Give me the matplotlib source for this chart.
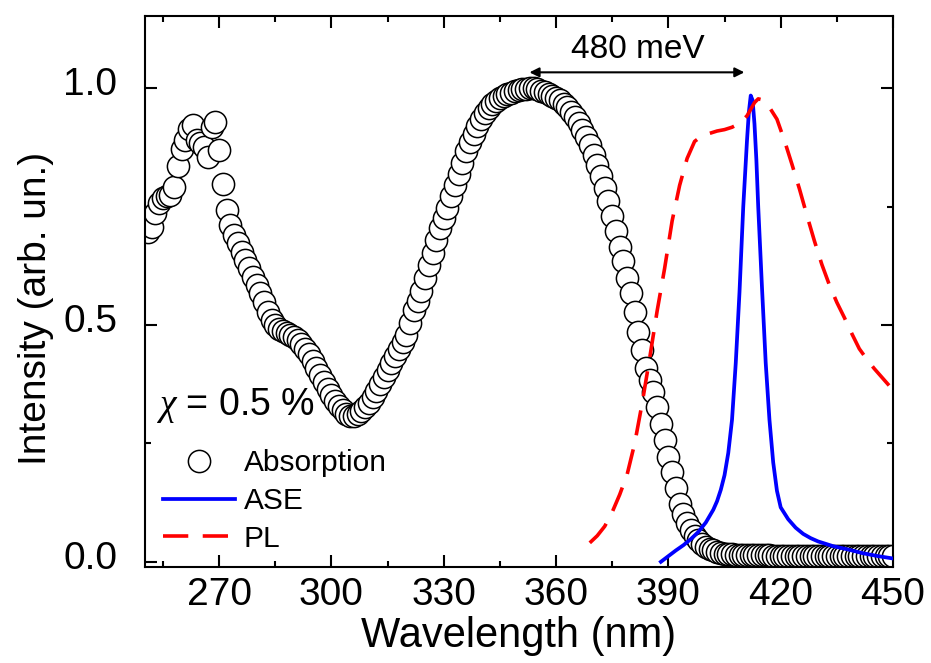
import numpy as np
import matplotlib
matplotlib.use("Agg")
import matplotlib.pyplot as plt
from matplotlib.ticker import MultipleLocator
from matplotlib.transforms import ScaledTranslation

plt.rcParams['font.family'] = ['Liberation Sans', 'DejaVu Sans']
plt.rcParams['mathtext.fontset'] = 'custom'
plt.rcParams['mathtext.rm'] = 'Liberation Sans'
plt.rcParams['mathtext.it'] = 'Liberation Serif:italic'

# Absorption (1 nm sampling starting at 251 nm)
abs_start = 251
absorption = [
    0.697, 0.708, 0.736, 0.757, 0.768, 0.773, 0.775, 0.792, 0.836, 0.871,   # 251-260
    0.891, 0.915, 0.922, 0.891, 0.884, 0.877, 0.856, 0.918, 0.929, 0.870,   # 261-270
    0.799, 0.744, 0.711, 0.690, 0.673, 0.655, 0.637, 0.620, 0.602, 0.585,   # 271-280
    0.567, 0.549, 0.528, 0.511, 0.500, 0.492, 0.487, 0.483, 0.479, 0.474,   # 281-290
    0.468, 0.460, 0.450, 0.438, 0.425, 0.410, 0.395, 0.380, 0.366, 0.352,   # 291-300
    0.340, 0.330, 0.320, 0.313, 0.309, 0.309, 0.312, 0.318, 0.326, 0.336,   # 301-310
    0.348, 0.361, 0.375, 0.390, 0.405, 0.420, 0.435, 0.450, 0.465, 0.480,   # 311-320
    0.505, 0.532, 0.550, 0.573, 0.600, 0.627, 0.653, 0.680, 0.705, 0.727,   # 321-330
    0.748, 0.773, 0.797, 0.820, 0.842, 0.868, 0.886, 0.904, 0.920, 0.935,   # 331-340
    0.948, 0.959, 0.967, 0.974, 0.979, 0.984, 0.988, 0.991, 0.994, 0.996,   # 341-350
    0.998, 0.999, 1.000, 1.000, 0.998, 0.995, 0.992, 0.988, 0.984, 0.980,   # 351-360
    0.975, 0.968, 0.961, 0.951, 0.940, 0.926, 0.912, 0.897, 0.880, 0.860,   # 361-370
    0.838, 0.815, 0.790, 0.762, 0.730, 0.698, 0.665, 0.635, 0.600, 0.567,   # 371-380
    0.528, 0.486, 0.447, 0.410, 0.385, 0.358, 0.327, 0.292, 0.257, 0.222,   # 381-390
    0.190, 0.155, 0.123, 0.100, 0.082, 0.068, 0.055, 0.045, 0.038, 0.032,   # 391-400
    0.027, 0.024, 0.021, 0.019, 0.017, 0.016, 0.016, 0.015, 0.015, 0.015,   # 401-410
    0.015, 0.014, 0.014, 0.014, 0.014, 0.014, 0.014, 0.013, 0.013, 0.013,   # 411-420
    0.013, 0.013, 0.013, 0.013, 0.013, 0.013, 0.013, 0.013, 0.013, 0.013,   # 421-430
    0.013, 0.013, 0.013, 0.013, 0.013, 0.013, 0.013, 0.013, 0.013, 0.013,   # 431-440
    0.013, 0.013, 0.013, 0.013, 0.013, 0.013, 0.013, 0.013, 0.013, 0.013,   # 441-450
]
abs_wl = np.arange(abs_start, abs_start + len(absorption))

# ASE
ase_wl = [388, 390, 392, 394, 396, 398, 400, 402, 403, 404, 405, 406, 407, 408,
          409, 410, 411, 411.5, 412, 412.5, 413, 413.5, 414, 415, 416, 417, 418,
          419, 420, 422, 424, 426, 428, 430, 434, 438, 442, 446, 450]
ase = [0.000, 0.012, 0.024, 0.035, 0.048, 0.063, 0.083, 0.110, 0.128, 0.152,
       0.183, 0.230, 0.300, 0.420, 0.570, 0.750, 0.890, 0.950, 0.985, 0.975,
       0.925, 0.850, 0.750, 0.580, 0.420, 0.300, 0.210, 0.150, 0.115, 0.090,
       0.072, 0.059, 0.050, 0.043, 0.033, 0.026, 0.018, 0.012, 0.007]

# PL
pl_wl = [369, 371, 373, 375, 377, 379, 381, 383, 385, 387, 389, 391, 393, 395,
         397, 399, 401, 403, 405, 407, 409, 411, 413, 414, 415, 417, 419, 421,
         423, 425, 427, 429, 431, 433, 435, 437, 439, 441, 443, 445, 447, 450]
pl = [0.040, 0.055, 0.075, 0.105, 0.142, 0.185, 0.250, 0.335, 0.430, 0.530,
      0.620, 0.720, 0.795, 0.852, 0.888, 0.900, 0.905, 0.910, 0.913, 0.918,
      0.926, 0.942, 0.970, 0.978, 0.976, 0.960, 0.935, 0.890, 0.840, 0.788,
      0.732, 0.678, 0.628, 0.585, 0.548, 0.516, 0.482, 0.450, 0.428, 0.408,
      0.390, 0.363]

x_ticks = [270, 300, 330, 360, 390, 420, 450]
y_ticks = [0.0, 0.5, 1.0]

fig = plt.figure(figsize=(9.31, 6.63), dpi=100)
ax = fig.add_axes([145/931, 1 - 567/663, (893-145)/931, (567-16)/663])

ax.plot(abs_wl, absorption, 'o', ms=16, mfc='white', mec='black', mew=1.1,
        ls='none', label='Absorption', zorder=2)
ax.plot(ase_wl, ase, '-', color='#0000ff', lw=2.7, label='ASE', zorder=3)
ax.plot(pl_wl, pl, color='#ff0000', lw=2.6, ls=(0, (7, 4)), label='PL', zorder=3)

ax.set_xlim(250.2, 450)
ax.set_ylim(-0.011, 1.153)
ax.set_xticks(x_ticks)
ax.set_yticks(y_ticks)
ax.xaxis.set_minor_locator(MultipleLocator(15))
ax.yaxis.set_minor_locator(MultipleLocator(0.25))
ax.tick_params(which='both', direction='in', top=True, right=True, width=1.5,
               labelsize=28)
ax.tick_params(which='major', length=8.5)
ax.tick_params(which='minor', length=4.5)
ax.tick_params(axis='x', pad=7)
ax.tick_params(axis='y', pad=20)
for lab in ax.get_yticklabels():
    lab.set_transform(lab.get_transform() + ScaledTranslation(0, 5/72, fig.dpi_scale_trans))
for s in ax.spines.values():
    s.set_linewidth(1.5)

ax.set_xlabel('Wavelength (nm)', fontsize=30, labelpad=2)
ax.set_ylabel('Intensity (arb. un.)', fontsize=28)
ax.yaxis.set_label_coords(-0.122, 0.47)

ax.annotate('', xy=(352.9, 1.034), xytext=(410.3, 1.034),
            arrowprops=dict(arrowstyle='<|-|>', color='black', lw=1.5,
                            mutation_scale=14, shrinkA=0, shrinkB=0))
ax.text(381.8, 1.065, '480 meV', fontsize=24, ha='center', va='baseline')
ax.text(253.1, 0.31, r'$\chi$ = 0.5 %', fontsize=27, ha='left', va='baseline')

ax.legend(loc='upper left', bbox_to_anchor=(0.012, 0.2296), frameon=False,
          fontsize=21.5, handlelength=2.4, handletextpad=0.3, labelspacing=0.32,
          borderaxespad=0, borderpad=0.3)

fig.savefig('out.png', dpi=100)
